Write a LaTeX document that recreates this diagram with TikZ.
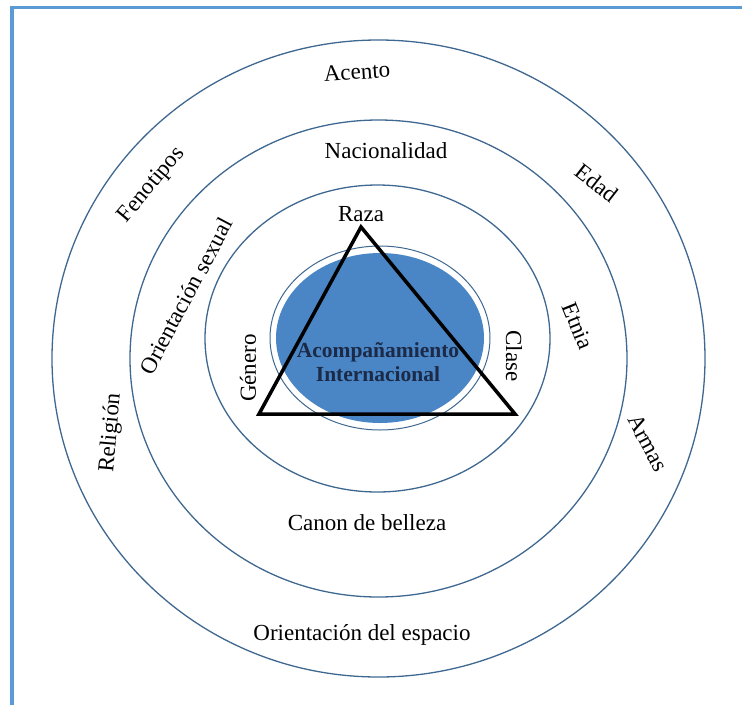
\documentclass[tikz,border=0pt]{standalone}
\usepackage{fontspec}
\setmainfont{Liberation Serif}
\usepackage{xcolor}
\usepackage{tikz}
\usetikzlibrary{positioning}

\definecolor{ringblue}{HTML}{3F6890}
\definecolor{frameblue}{HTML}{5B9BD5}
\definecolor{corefill}{HTML}{4A86C5}
\definecolor{coretext}{HTML}{1B2A48}

\begin{document}
\begin{tikzpicture}[
    x=1pt, y=-1pt,
    ring/.style={draw=ringblue, line width=1.3pt},
    factor/.style={font=\fontsize{23}{25}\selectfont, inner sep=0pt},
    corelabel/.style={font=\fontsize{21.5}{24}\selectfont\bfseries, text=coretext, align=center, inner sep=0pt},
    triangle/.style={draw=black, line width=3.5pt, line join=miter}
]
\useasboundingbox (0,0) rectangle (742,705);

% Frame
\draw[frameblue, line width=3.5pt] (12,705) -- (12,7.5) -- (742,7.5);

% Rings
\coordinate (mid) at (378.5,358.5);
\coordinate (inner) at (377.5,338.5);
\draw[ring] (mid) ellipse [x radius=326.5pt, y radius=318.5pt];
\draw[ring] (mid) ellipse [x radius=248.5pt, y radius=238.5pt];
\draw[ring] (inner) ellipse [x radius=172.5pt, y radius=153.5pt];

% Core
\coordinate (core) at (380,338);
\draw[ringblue, line width=1pt] (core) ellipse [x radius=110pt, y radius=92pt];
\fill[corefill] (core) ellipse [x radius=104pt, y radius=85pt];

% Triangle
\coordinate (apex) at (361,227);
\coordinate (left) at (259,414);
\coordinate (right) at (515,414);
\draw[triangle] (apex) -- (left) -- (right) -- cycle;

\node[corelabel] (acomp) at (378,362) {Acompañamiento\\Internacional};

% Inner ring
\node[factor] (raza) at (361,214) {Raza};
\node[factor, rotate=90] (genero) at (248,368) {Género};
\node[factor, rotate=-90] (clase) at (514,356) {Clase};

% Middle ring
\node[factor] (nacionalidad) at (386,151) {Nacionalidad};
\node[factor, rotate=62] (sexual) at (186,296) {Orientación sexual};
\node[factor, rotate=-68] (etnia) at (578,326) {Etnia};
\node[factor] (canon) at (367,523) {Canon de belleza};

% Outer ring
\node[factor, rotate=4] (acento) at (357,72) {Acento};
\node[factor, rotate=50] (fenotipos) at (152,185) {Fenotipos};
\node[factor, rotate=-38] (edad) at (597,183) {Edad};
\node[factor, rotate=85] (religion) at (111,433) {Religión};
\node[factor, rotate=-62] (armas) at (648,443) {Armas};
\node[factor] (espacio) at (362,635) {Orientación del espacio};

\end{tikzpicture}
\end{document}
